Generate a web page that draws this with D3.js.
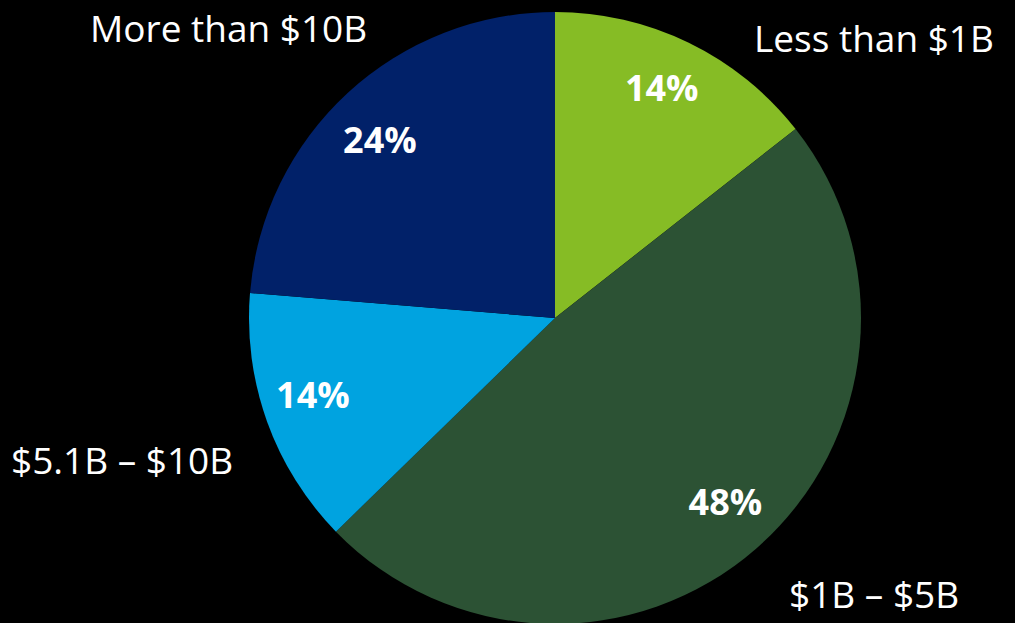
<!DOCTYPE html>
<html><head><meta charset="utf-8">
<script src="https://cdn.jsdelivr.net/npm/d3@7"></script>
<style>html,body{margin:0;padding:0;background:#000;}svg{display:block;}</style>
</head><body>
<svg id="chart" width="1015" height="623"></svg>
<script>
const categories = ["Less than $1B", "$1B – $5B", "$5.1B – $10B", "More than $10B"];
const values = [14.4, 48.3, 13.6, 23.7];
const valueLabels = ["14%", "48%", "14%", "24%"];
const colors = ["#86BC25", "#2C5234", "#00A3E0", "#012169"];
// label layout: [x, baseline y] for category labels
const labelLayout = [[754, 52], [789, 608], [11, 474], [90, 42]];
// small nudges for percent labels relative to arc centroid
const pctNudge = [[-3, -4], [5, -5], [-6, -8], [-5, 7]];

const W = 1015, H = 623;
const cx = 555, cy = 318, R = 306;
const svg = d3.select("#chart");
svg.append("rect").attr("width", W).attr("height", H).attr("fill", "#000");
const g = svg.append("g").attr("transform", `translate(${cx},${cy})`);
const data = categories.map((c, i) => ({cat: c, value: values[i], label: valueLabels[i], color: colors[i], i}));
const pie = d3.pie().value(d => d.value).sort(null);
const arcs = pie(data);
const arc = d3.arc().innerRadius(0).outerRadius(R);
const labelArc = d3.arc().innerRadius(251).outerRadius(251);
g.selectAll("path").data(arcs).join("path")
  .attr("d", arc).attr("fill", d => d.data.color);
g.selectAll("text.pct").data(arcs).join("text")
  .attr("class", "pct")
  .attr("transform", d => {
    const [x, y] = labelArc.centroid(d);
    const n = pctNudge[d.data.i];
    return `translate(${x + n[0]},${y + n[1]})`;
  })
  .attr("text-anchor", "middle").attr("dy", "0.36em")
  .attr("fill", "#fff").attr("font-family", "Open Sans").attr("font-weight", 700)
  .attr("font-size", 36).text(d => d.data.label);
svg.selectAll("text.cat").data(data).join("text")
  .attr("class", "cat")
  .attr("x", (d, i) => labelLayout[i][0]).attr("y", (d, i) => labelLayout[i][1])
  .attr("fill", "#fff").attr("font-family", "Open Sans").attr("font-size", 37)
  .text(d => d.cat);
</script>
</body></html>
